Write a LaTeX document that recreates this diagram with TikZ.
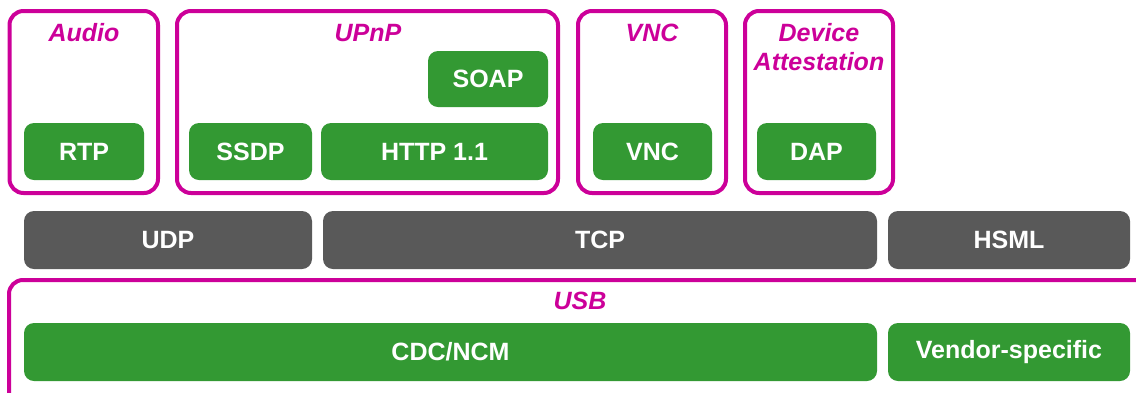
\documentclass[tikz,border=0pt]{standalone}
\usepackage{fontspec}
\setmainfont{Liberation Sans}
\definecolor{mag}{HTML}{CC0099}
\definecolor{grn}{HTML}{339933}
\definecolor{gry}{HTML}{595959}
\tikzset{
  gbox/.style={fill=grn, rounded corners=10pt, text=white, inner sep=0pt,
    font=\bfseries\fontsize{25}{30}\selectfont},
  dbox/.style={gbox, fill=gry},
  frame/.style={draw=mag, line width=4pt, rounded corners=14pt, inner sep=0pt},
  ttl/.style={text=mag, inner sep=0pt, font=\bfseries\itshape\fontsize{25}{29}\selectfont, align=center}
}
\begin{document}
\begin{tikzpicture}[x=1pt,y=-1pt]
\useasboundingbox (0,0) rectangle (1136,392);
% frames
\node[frame, minimum width=148.5pt, minimum height=182pt] (audio) at (83.75,102) {};
\node[frame, minimum width=381pt, minimum height=182pt] (upnp) at (367.5,102) {};
\node[frame, minimum width=148pt, minimum height=182pt] (vncf) at (652,102) {};
\node[frame, minimum width=148pt, minimum height=182pt] (devf) at (819,102) {};
\begin{scope}
\clip (0,0) rectangle (1136,392);
\node[frame, minimum width=1139pt, minimum height=140pt] (usb) at (578.5,350) {};
\end{scope}
% titles
\node[ttl] (taudio) at (84,33) {Audio};
\node[ttl] (tupnp) at (368,33) {UPnP};
\node[ttl] (tvnc) at (652,33) {VNC};
\node[ttl] (tdev1) at (819,33) {Device};
\node[ttl] (tdev2) at (819,62) {Attestation};
\node[ttl] (tusb) at (580,301) {USB};
% green boxes
\node[gbox, minimum width=120pt, minimum height=57pt] (rtp) at (84,151.5) {RTP};
\node[gbox, minimum width=123pt, minimum height=57pt] (ssdp) at (250.5,151.5) {SSDP};
\node[gbox, minimum width=227pt, minimum height=57pt] (http) at (434.5,151.5) {HTTP 1.1};
\node[gbox, minimum width=120pt, minimum height=56pt] (soap) at (488,79) {SOAP};
\node[gbox, minimum width=119pt, minimum height=57pt] (vnc) at (652.5,151.5) {VNC};
\node[gbox, minimum width=119pt, minimum height=57pt] (dap) at (816.5,151.5) {DAP};
% gray
\node[dbox, minimum width=288pt, minimum height=58pt] (udp) at (168,240) {UDP};
\node[dbox, minimum width=554pt, minimum height=58pt] (tcp) at (600,240) {TCP};
\node[dbox, minimum width=242pt, minimum height=58pt] (hsml) at (1009,240) {HSML};
% bottom
\node[gbox, minimum width=853pt, minimum height=58pt] (cdc) at (450.5,352) {CDC/NCM};
\node[gbox, minimum width=242pt, minimum height=58pt] (vend) at (1009,352) {Vendor-specific};
\end{tikzpicture}
\end{document}
